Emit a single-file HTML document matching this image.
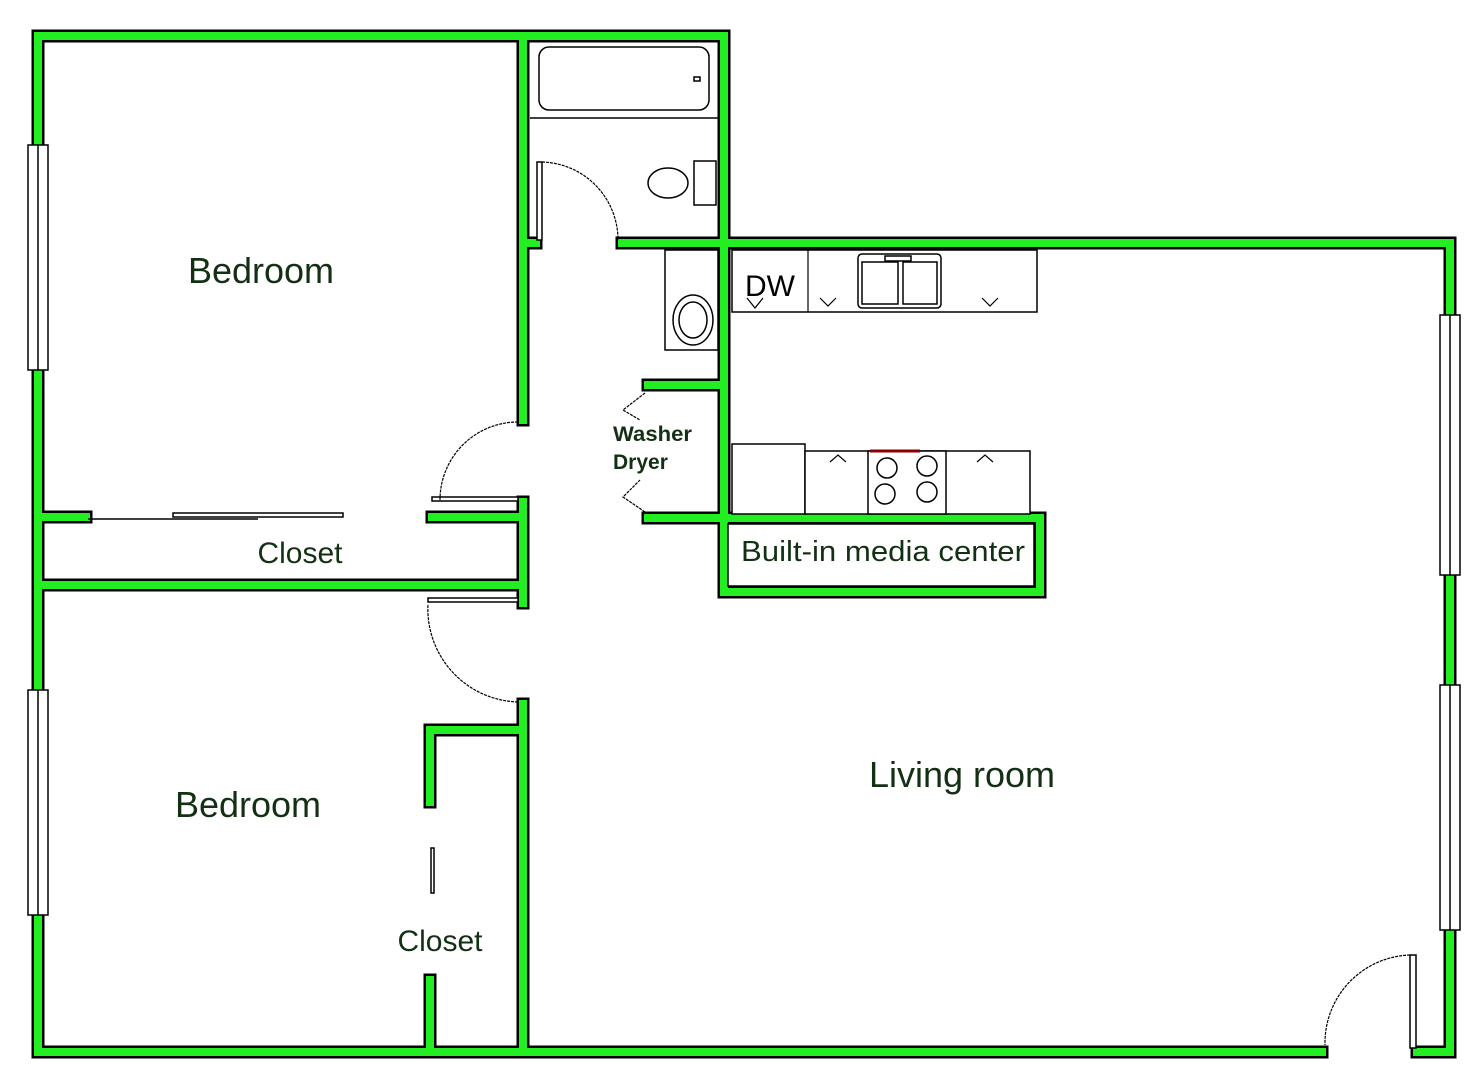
<!DOCTYPE html>
<html><head><style>body{margin:0;background:#fff}svg{display:block}
text{font-family:"Liberation Sans",sans-serif;fill:#143014}</style></head>
<body>
<svg width="1471" height="1080" viewBox="0 0 1471 1080" xmlns="http://www.w3.org/2000/svg">
<defs>
<g id="walls" fill="none" stroke-linecap="square" stroke-linejoin="miter">
<polyline points="38,145 38,36 724,36 724,520"/>
<polyline points="38,370 38,690"/>
<polyline points="38,915 38,1052 1322,1052"/>
<polyline points="1417,1052 1450,1052 1450,930"/>
<polyline points="1450,685 1450,575"/>
<polyline points="1450,315 1450,243 622,243"/>
<line x1="523" y1="243" x2="536" y2="243"/>
<polyline points="523,36 523,420"/>
<polyline points="523,502 523,603"/>
<polyline points="523,704 523,1052"/>
<polyline points="38,517 86,517"/>
<polyline points="432,517 523,517"/>
<polyline points="38,585 523,585"/>
<polyline points="523,730 430,730 430,802"/>
<polyline points="430,980 430,1052"/>
<polyline points="648,385 724,385"/>
<polyline points="648,518 1040,518 1040,592 724,592 724,518"/>
</g>
</defs>
<use href="#walls" stroke="#000" stroke-width="13"/>
<use href="#walls" stroke="#22ee22" stroke-width="8"/>
<g fill="#fff" stroke="#000" stroke-width="1.5">
<rect x="728" y="524" width="306" height="62" fill="#fff"/>
<rect x="28" y="145" width="20" height="225"/><line x1="38" y1="145" x2="38" y2="370"/>
<rect x="28" y="690" width="20" height="225"/><line x1="38" y1="690" x2="38" y2="915"/>
<rect x="1440" y="315" width="20" height="260"/><line x1="1450" y1="315" x2="1450" y2="575"/>
<rect x="1440" y="685" width="20" height="245"/><line x1="1450" y1="685" x2="1450" y2="930"/>
<line x1="530" y1="118" x2="718" y2="118"/>
<rect x="539" y="47" width="170" height="63" rx="10"/>
<rect x="694" y="77" width="6" height="4"/>
<ellipse cx="668" cy="183" rx="20" ry="15"/>
<rect x="694" y="161" width="22" height="44"/>
<rect x="665" y="250" width="53" height="100"/>
<ellipse cx="693" cy="320" rx="20" ry="25"/>
<ellipse cx="693" cy="320" rx="14" ry="18"/>
<rect x="732" y="250" width="305" height="62"/>
<rect x="858" y="254" width="83" height="54" rx="4"/>
<rect x="862" y="262" width="36" height="42"/><rect x="903" y="262" width="34" height="42"/>
<rect x="885" y="256" width="26" height="5"/>
<rect x="732" y="444" width="73" height="70"/>
<rect x="805" y="451" width="225" height="63"/>
<rect x="868" y="451" width="78" height="63"/>
<circle cx="887" cy="468" r="10"/><circle cx="927" cy="466" r="10"/>
<circle cx="885" cy="494" r="10"/><circle cx="927" cy="492" r="10"/>
<rect x="173" y="513" width="170" height="4"/>
<line x1="88" y1="519" x2="258" y2="519"/>
<rect x="432" y="497" width="86" height="4"/>
<rect x="428" y="598" width="90" height="4"/>
<rect x="431" y="848" width="3" height="45"/>
<rect x="537" y="162" width="5" height="78"/>
<rect x="1410" y="955" width="6" height="93"/>
</g>
<g fill="none" stroke="#000" stroke-width="1.2" stroke-dasharray="3,1">
<path d="M542,162 A78,78 0 0 1 618,240"/>
<path d="M518,422 A78,78 0 0 0 440,500"/>
<path d="M518,702 A93,93 0 0 1 428,604"/>
<path d="M1410,955 A88,88 0 0 0 1325,1045"/>
<polyline points="645,393 623,410 640,420"/>
<polyline points="645,512 623,497 640,480"/>
</g>
<g stroke="#000" stroke-width="1.2" fill="none">
<polyline points="747,298 755,308 763,298"/><polyline points="820,298 828,306 836,298"/>
<polyline points="982,298 990,306 998,298"/>
<polyline points="830,462 838,455 846,462"/><polyline points="977,462 985,455 993,462"/>
<line x1="808" y1="250" x2="808" y2="312"/>
</g>
<line x1="870" y1="451" x2="920" y2="451" stroke="#800" stroke-width="3"/>
<text x="745" y="296" font-size="30" font-weight="300" style="fill:#000">DW</text>
<text x="261" y="283" font-size="36" text-anchor="middle">Bedroom</text>
<text x="300" y="563" font-size="30" text-anchor="middle">Closet</text>
<text x="248" y="817" font-size="36" text-anchor="middle">Bedroom</text>
<text x="440" y="951" font-size="30" text-anchor="middle">Closet</text>
<text x="962" y="787" font-size="36" text-anchor="middle">Living room</text>
<text x="883" y="561" font-size="29" text-anchor="middle" textLength="284" lengthAdjust="spacingAndGlyphs">Built-in media center</text>
<text x="613" y="441" font-size="21" font-weight="bold" textLength="79" lengthAdjust="spacingAndGlyphs">Washer</text>
<text x="613" y="469" font-size="21" font-weight="bold">Dryer</text>
</svg>
</body></html>
